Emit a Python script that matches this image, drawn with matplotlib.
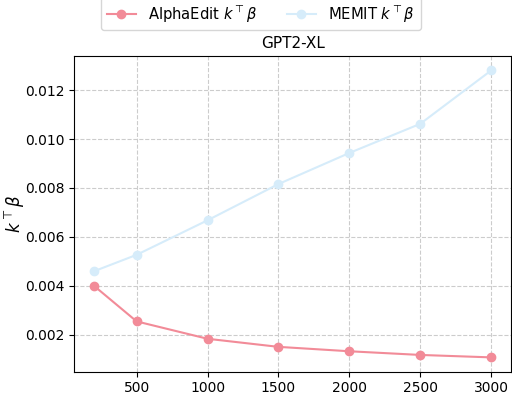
import matplotlib
matplotlib.use("Agg")
import matplotlib.pyplot as plt

# ── data ─────────────────────────────────────────────
num_edits = [200, 500, 1000, 1500, 2000, 2500, 3000]
alphaedit_kb = [0.0040, 0.00255, 0.00184, 0.00151, 0.00133, 0.00118, 0.00108]
memit_kb = [0.00460, 0.00527, 0.00668, 0.00816, 0.00943, 0.01062, 0.01280]
xticks = [500, 1000, 1500, 2000, 2500, 3000]

ALPHA_COLOR = "#f28b98"
MEMIT_COLOR = "#d6ecfa"

fig = plt.figure(figsize=(5.12, 4.01), dpi=100)
ax = fig.add_axes([0.145, 0.073, 0.853, 0.787])

ax.plot(num_edits, alphaedit_kb, marker="o", color=ALPHA_COLOR,
        linewidth=1.5, markersize=6, label=r"AlphaEdit $k^\top\beta$")
ax.plot(num_edits, memit_kb, marker="o", color=MEMIT_COLOR,
        linewidth=1.5, markersize=6, label=r"MEMIT $k^\top\beta$")

ax.set_xticks(xticks)
ax.set_title("GPT2-XL", fontsize=11)
ax.set_ylabel(r"$k^\top\beta$", fontsize=12)
ax.yaxis.set_label_coords(-0.105, 0.5)
ax.grid(True, linestyle="--", color="#cccccc", linewidth=0.8)
ax.tick_params(labelsize=10)

fig.legend(loc="upper center", bbox_to_anchor=(0.509, 1.025), ncol=2,
           fontsize=10.6, frameon=True)

fig.savefig("out.png", dpi=100)
